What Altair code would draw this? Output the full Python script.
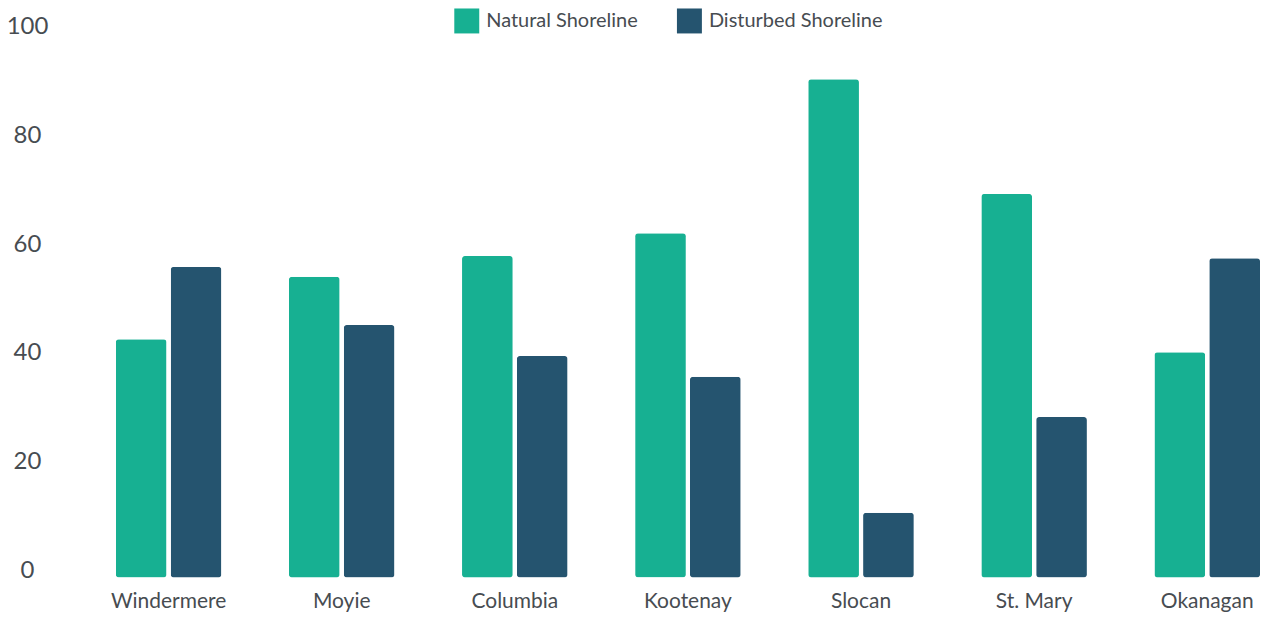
import altair as alt
import pandas as pd

lakes = ["Windermere", "Moyie", "Columbia", "Kootenay", "Slocan", "St. Mary", "Okanagan"]
natural = [43.8, 55.3, 59.1, 63.3, 91.6, 70.5, 41.4]
disturbed = [57.1, 46.4, 40.7, 36.9, 11.9, 29.5, 58.7]
series = ["Natural Shoreline", "Disturbed Shoreline"]
colors = ["#17b092", "#25546f"]

rows = []
for i, lake in enumerate(lakes):
    rows.append({"lake": lake, "series": series[0], "value": natural[i]})
    rows.append({"lake": lake, "series": series[1], "value": disturbed[i]})
df = pd.DataFrame(rows)

FONT = "Lato"
LABEL = "#474c51"

chart = alt.Chart(df).mark_bar(cornerRadius=3).encode(
    x=alt.X("lake:N", sort=lakes, title=None,
            scale=alt.Scale(paddingInner=0.39, paddingOuter=0),
            axis=alt.Axis(labelAngle=0, ticks=False, domain=False, labelPadding=13,
                          labelFontSize=21, labelColor=LABEL, labelFont=FONT)),
    xOffset=alt.XOffset("series:N", sort=series, scale=alt.Scale(paddingInner=0.075)),
    y=alt.Y("value:Q", title=None,
            scale=alt.Scale(domain=[0, 100], nice=False),
            axis=alt.Axis(values=[0, 20, 40, 60, 80, 100], grid=False, ticks=False, tickSize=0,
                          domain=False, labelAlign="center", labelBaseline="alphabetic",
                          labelPadding=89, labelFontSize=24, labelColor=LABEL, labelFont=FONT)),
    color=alt.Color("series:N", sort=series, title=None,
                    scale=alt.Scale(domain=series, range=colors),
                    legend=alt.Legend(orient="none", legendX=339, legendY=-25, direction="horizontal",
                                      symbolType="square", symbolSize=625, symbolStrokeWidth=0,
                                      labelFontSize=20, labelColor=LABEL, labelFont=FONT,
                                      labelLimit=400, labelOffset=7, columnPadding=39)),
).properties(
    width=1146, height=545,
    autosize=alt.AutoSizeParams(type="none"),
    padding={"left": 108, "top": 25, "right": 2, "bottom": 40},
).configure_view(stroke=None)

chart.save("out.html", embed_options={"renderer": "svg", "actions": False})
